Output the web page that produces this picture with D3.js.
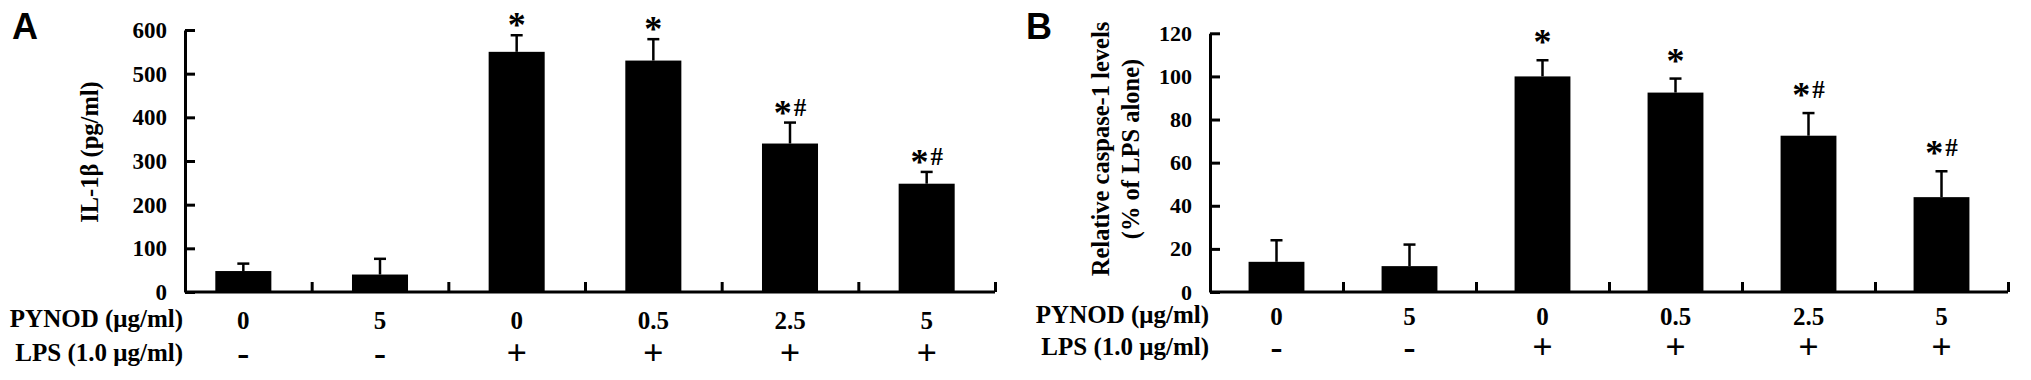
<!DOCTYPE html>
<html lang="en">
<head>
    <meta charset="UTF-8">
    <title>IL-1β and caspase-1 levels</title>
    <script src="https://d3js.org/d3.v7.min.js"></script>
    <style>
        body { margin: 0; background: #fff; }
        svg { display: block; }
        text {
            font-family: "Liberation Serif", "Times New Roman", serif;
            font-weight: bold;
            fill: #000;
        }
        .letter { font-family: "Liberation Sans", Arial, sans-serif; font-size: 36px; }
        .axis path, .axis line { stroke: #000; stroke-width: 3px; fill: none; }
    </style>
</head>
<body>
    <svg id="fig" width="2031" height="380"></svg>
    <script>
        // treatment rows shown under both panels
        var pynod = ["0", "5", "0", "0.5", "2.5", "5"];
        var lps = ["-", "-", "+", "+", "+", "+"];

        // panel A: IL-1β (pg/ml), mean and upper error
        var il1b = [48, 40, 550, 530, 340, 248];
        var il1bErr = [17, 36, 38, 49, 48, 27];
        var il1bTicks = [0, 100, 200, 300, 400, 500, 600];

        // panel B: relative caspase-1 (% of LPS alone)
        var casp1 = [14, 12, 100, 92.5, 72.5, 44];
        var casp1Err = [10, 10, 7.5, 6.5, 10.5, 12];
        var casp1Ticks = [0, 20, 40, 60, 80, 100, 120];

        // significance marks above the bars
        var marks = ["", "", "*", "*", "*#", "*#"];

        var svg = d3.select("#fig");
        var baseY = 292;

        function drawPanel(o) {
            var n = pynod.length;
            var g = svg.append("g");

            var x = d3.scaleBand()
                .domain(d3.range(n))
                .range([o.x0, o.x1])
                .paddingInner(o.pad)
                .paddingOuter(o.pad / 2);
            var xEdge = d3.scaleLinear().domain([0, n]).range([o.x0, o.x1]);
            var y = d3.scaleLinear().domain([0, o.yMax]).range([baseY, o.yTop]);

            // bars
            g.selectAll(".bar")
                .data(o.values)
              .enter().append("rect")
                .attr("class", "bar")
                .attr("x", function(d, i) { return x(i); })
                .attr("width", x.bandwidth())
                .attr("y", function(d) { return y(d); })
                .attr("height", function(d) { return y(0) - y(d); })
                .attr("fill", "#000");

            // error bars (upper half only)
            var cx = function(i) { return x(i) + x.bandwidth() / 2; };
            var eb = g.selectAll(".err")
                .data(o.values)
              .enter().append("g")
                .attr("class", "err")
                .attr("stroke", "#000")
                .attr("stroke-width", 2.5);
            eb.append("line")
                .attr("x1", function(d, i) { return cx(i); })
                .attr("x2", function(d, i) { return cx(i); })
                .attr("y1", function(d) { return y(d); })
                .attr("y2", function(d, i) { return y(d + o.errs[i]); });
            eb.append("line")
                .attr("x1", function(d, i) { return cx(i) - 6; })
                .attr("x2", function(d, i) { return cx(i) + 6; })
                .attr("y1", function(d, i) { return y(d + o.errs[i]); })
                .attr("y2", function(d, i) { return y(d + o.errs[i]); });

            // significance marks
            var mk = g.selectAll(".mark")
                .data(marks)
              .enter().append("text")
                .attr("class", "mark")
                .attr("text-anchor", "middle")
                .attr("x", function(d, i) { return cx(i); })
                .attr("y", function(d, i) { return y(o.values[i] + o.errs[i]) - o.markOff + 17; });
            mk.append("tspan")
                .style("font-size", "36px")
                .text(function(d) { return d.indexOf("*") >= 0 ? "*" : ""; });
            mk.append("tspan")
                .style("font-size", "25px")
                .attr("dx", 2)
                .attr("dy", -9)
                .text(function(d) { return d.indexOf("#") >= 0 ? "#" : ""; });

            // y axis with inward ticks
            var yAxis = g.append("g")
                .attr("class", "axis")
                .attr("transform", "translate(" + o.axisX + ",0)")
                .call(d3.axisLeft(y).tickValues(o.ticks).tickSizeInner(-10).tickSizeOuter(0).tickPadding(18));
            yAxis.selectAll("text")
                .style("font-size", o.tickFont + "px")
                .attr("fill", "#000");

            // x axis: ticks between groups
            var xAxis = g.append("g")
                .attr("class", "axis")
                .attr("transform", "translate(0," + baseY + ")")
                .call(d3.axisTop(xEdge).tickValues(d3.range(1, n + 1)).tickSize(10).tickFormat(""));
            xAxis.select(".domain").remove();
            xAxis.append("line")
                .attr("x1", o.axisX)
                .attr("x2", o.x1)
                .attr("stroke", "#000")
                .attr("stroke-width", 3);

            // y label
            var yl = g.append("text")
                .attr("text-anchor", "middle")
                .attr("transform", "translate(" + o.ylabX + "," + o.ylabY + ") rotate(-90)")
                .style("font-size", "24.5px");
            o.ylabel.forEach(function(s, k) {
                yl.append("tspan")
                    .attr("x", 0)
                    .attr("dy", k === 0 ? 0 : 30)
                    .text(s);
            });

            // treatment rows
            g.append("text")
                .attr("text-anchor", "end")
                .attr("x", o.rowRight)
                .attr("y", o.row1)
                .style("font-size", "25px")
                .text("PYNOD (μg/ml)");
            g.append("text")
                .attr("text-anchor", "end")
                .attr("x", o.rowRight)
                .attr("y", o.row2)
                .style("font-size", "25px")
                .text("LPS (1.0 μg/ml)");

            g.selectAll(".dose")
                .data(pynod)
              .enter().append("text")
                .attr("class", "dose")
                .attr("text-anchor", "middle")
                .attr("x", function(d, i) { return cx(i); })
                .attr("y", o.row1 + 2)
                .style("font-size", "25px")
                .text(function(d) { return d; });

            g.selectAll(".sign")
                .data(lps)
              .enter().append("text")
                .attr("class", "sign")
                .attr("text-anchor", "middle")
                .attr("x", function(d, i) { return cx(i); })
                .attr("y", o.row2 + 4)
                .style("font-size", "36px")
                .text(function(d) { return d; });

            // panel letter
            g.append("text")
                .attr("class", "letter")
                .attr("x", o.letterX)
                .attr("y", 39)
                .text(o.letter);
        }

        drawPanel({
            letter: "A", letterX: 12,
            x0: 175, x1: 995, axisX: 185, pad: 0.59,
            yMax: 600, yTop: 30, ticks: il1bTicks, tickFont: 23,
            values: il1b, errs: il1bErr, markOff: 15,
            ylabel: ["IL-1β (pg/ml)"], ylabX: 98, ylabY: 152,
            rowRight: 183, row1: 327, row2: 361
        });

        drawPanel({
            letter: "B", letterX: 1026,
            x0: 1210, x1: 2008, axisX: 1210, pad: 0.58,
            yMax: 120, yTop: 33.3, ticks: casp1Ticks, tickFont: 22,
            values: casp1, errs: casp1Err, markOff: 23,
            ylabel: ["Relative caspase-1 levels", "(% of LPS alone)"], ylabX: 1109, ylabY: 149,
            rowRight: 1209, row1: 323, row2: 355
        });
    </script>
</body>
</html>
